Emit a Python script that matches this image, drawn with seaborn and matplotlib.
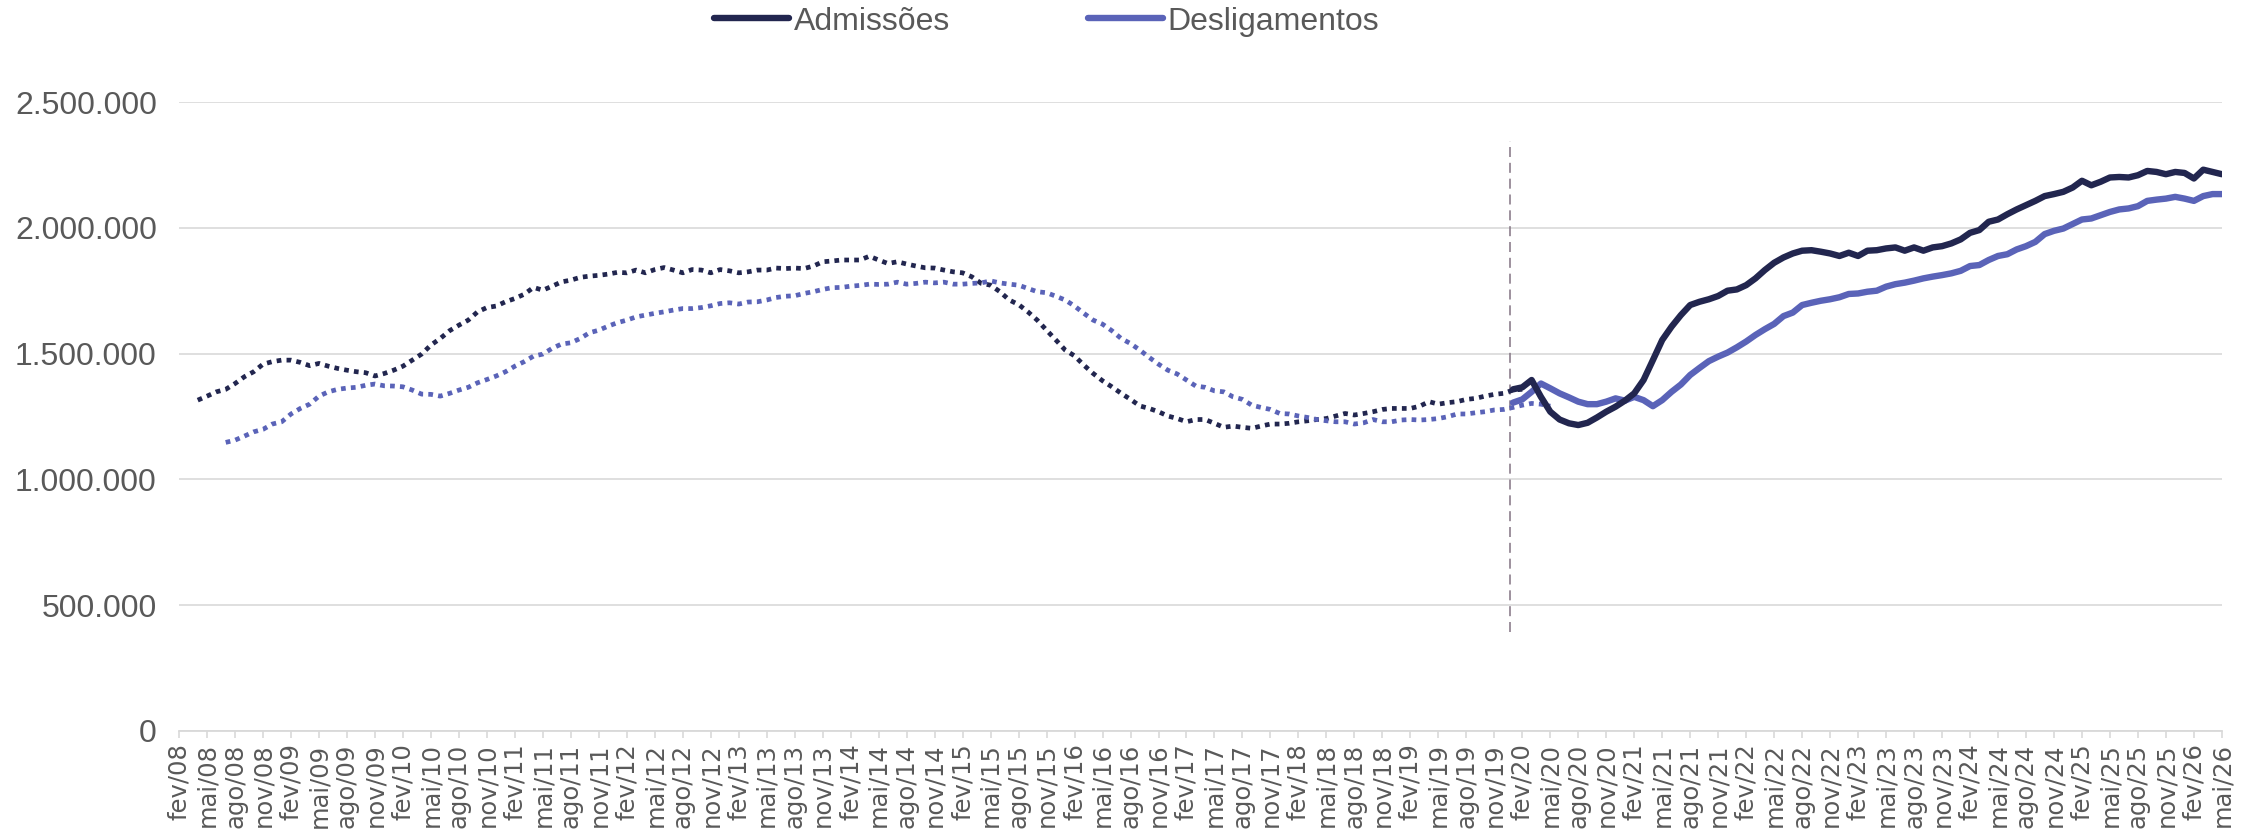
import numpy as np
import pandas as pd
import matplotlib
matplotlib.use("Agg")
import matplotlib.pyplot as plt
from matplotlib import font_manager
from matplotlib.lines import Line2D
from matplotlib.ticker import FuncFormatter, MultipleLocator
import seaborn as sns

# ---------------------------------------------------------------- data
# Monthly axis: fev/08 ... mai/26 (index 0 = fev/08)
MESES = ["jan", "fev", "mar", "abr", "mai", "jun",
         "jul", "ago", "set", "out", "nov", "dez"]
N_MESES = 220

# Old series (dotted), values in thousands
adm_antigo_inicio = 2     # abr/08
adm_antigo = [
    1315, 1331, 1348, 1358, 1381, 1408, 1428, 1458, 1468, 1474, 1474, 1465,
    1452, 1461, 1450, 1441, 1434, 1428, 1424, 1411, 1421, 1434, 1450, 1474,
    1498, 1534, 1560, 1591, 1613, 1633, 1666, 1683, 1689, 1706, 1719, 1736,
    1763, 1752, 1768, 1785, 1792, 1803, 1808, 1811, 1816, 1823, 1821, 1832,
    1821, 1834, 1842, 1832, 1821, 1834, 1832, 1821, 1834, 1829, 1821, 1825,
    1832, 1832, 1840, 1838, 1840, 1838, 1848, 1865, 1868, 1872, 1872, 1872,
    1887, 1872, 1858, 1865, 1856, 1848, 1841, 1840, 1832, 1825, 1821, 1805,
    1779, 1772, 1746, 1713, 1695, 1666, 1633, 1593, 1554, 1514, 1491, 1454,
    1421, 1392, 1368, 1342, 1318, 1292, 1282, 1269, 1252, 1242, 1229, 1238,
    1238, 1223, 1207, 1212, 1207, 1203, 1212, 1220, 1220, 1223, 1229, 1233,
    1238, 1242, 1252, 1262, 1256, 1262, 1269, 1278, 1282, 1282, 1282, 1291,
    1309, 1299, 1305, 1309, 1318, 1322, 1331, 1338, 1342, 1355, 1358,
]

desl_antigo_inicio = 5    # jul/08
desl_antigo = [
    1147, 1156, 1172, 1189, 1199, 1220, 1229, 1260, 1282, 1299, 1331, 1348,
    1358, 1363, 1366, 1374, 1379, 1372, 1371, 1368, 1355, 1339, 1338, 1331,
    1342, 1355, 1366, 1384, 1397, 1411, 1428, 1450, 1468, 1490, 1498, 1521,
    1538, 1543, 1560, 1583, 1593, 1609, 1623, 1633, 1646, 1653, 1660, 1666,
    1673, 1679, 1679, 1683, 1690, 1699, 1702, 1697, 1705, 1706, 1713, 1723,
    1728, 1730, 1739, 1746, 1755, 1762, 1763, 1768, 1771, 1776, 1775, 1776,
    1784, 1776, 1779, 1784, 1781, 1784, 1776, 1776, 1779, 1781, 1789, 1781,
    1776, 1772, 1759, 1746, 1742, 1728, 1713, 1689, 1660, 1633, 1617, 1591,
    1560, 1540, 1514, 1485, 1458, 1434, 1419, 1395, 1371, 1366, 1352, 1348,
    1328, 1318, 1295, 1286, 1278, 1262, 1260, 1252, 1246, 1238, 1233, 1229,
    1229, 1220, 1225, 1238, 1229, 1229, 1236, 1238, 1236, 1238, 1242, 1249,
    1260, 1260, 1265, 1269, 1276, 1278, 1286, 1295, 1302, 1299, 1291,
]

# New series (solid), values in thousands
novo_inicio = 143         # jan/20
adm_novo = [
    1358, 1366, 1395, 1328, 1269, 1238, 1223, 1216, 1225, 1246, 1269, 1289,
    1313, 1342, 1395, 1474, 1554, 1607, 1653, 1693, 1706, 1716, 1729, 1750,
    1755, 1772, 1799, 1832, 1861, 1882, 1898, 1909, 1911, 1905, 1898, 1888,
    1901, 1888, 1909, 1911, 1918, 1922, 1909, 1922, 1909, 1922, 1927, 1938,
    1954, 1980, 1991, 2024, 2033, 2054, 2073, 2090, 2107, 2126, 2134, 2143,
    2160, 2187, 2169, 2183, 2200, 2202, 2200, 2209, 2226, 2222, 2213, 2222,
    2218, 2196, 2231, 2222, 2213,
]
desl_novo = [
    1305, 1318, 1348, 1381, 1362, 1342, 1326, 1309, 1299, 1299, 1309, 1322,
    1313, 1328, 1315, 1291, 1315, 1348, 1377, 1415, 1443, 1470, 1488, 1504,
    1525, 1548, 1574, 1597, 1618, 1649, 1663, 1693, 1702, 1710, 1716, 1724,
    1737, 1739, 1746, 1750, 1766, 1776, 1782, 1790, 1799, 1806, 1812, 1819,
    1829, 1848, 1852, 1872, 1888, 1895, 1914, 1927, 1944, 1975, 1988, 1997,
    2015, 2033, 2037, 2050, 2063, 2073, 2077, 2086, 2107, 2112, 2116, 2123,
    2116, 2107, 2126, 2134, 2134,
]

# break between methodologies (month index) and its vertical extent
quebra_mes = 142.7
quebra_faixa = (393_000, 2_345_000)

series_nomes = ["Admissões", "Desligamentos"]

# ---------------------------------------------------------------- style
sns.set_theme(style="white")
nomes = {f.name for f in font_manager.fontManager.ttflist}
fonte_estreita = "Liberation Sans Narrow" if "Liberation Sans Narrow" in nomes else "Liberation Sans"
plt.rcParams["font.family"] = ["DejaVu Sans"]

COR_ADM = "#22264F"
COR_DESL = "#5A63B8"
COR_GRADE = "#D9D9D9"
COR_TEXTO = "#595959"

rotulos = [f"{MESES[(1 + i) % 12]}/{(8 + (1 + i) // 12):02d}" for i in range(N_MESES)]


def serie(inicio, valores):
    idx = np.arange(inicio, inicio + len(valores))
    return pd.DataFrame({"mes": idx, "valor": np.array(valores) * 1000})


fig = plt.figure(figsize=(22.61, 8.32), dpi=100)
ax = fig.add_axes([0.0792, 0.1214, 0.9035, 0.756])

dotted = (0, (1.0, 1.1))
sns.lineplot(data=serie(adm_antigo_inicio, adm_antigo), x="mes", y="valor", ax=ax,
             color=COR_ADM, linewidth=3.4, linestyle=dotted, errorbar=None)
sns.lineplot(data=serie(desl_antigo_inicio, desl_antigo), x="mes", y="valor", ax=ax,
             color=COR_DESL, linewidth=3.4, linestyle=dotted, errorbar=None)
sns.lineplot(data=serie(novo_inicio, desl_novo), x="mes", y="valor", ax=ax,
             color=COR_DESL, linewidth=4.6, errorbar=None)
sns.lineplot(data=serie(novo_inicio, adm_novo), x="mes", y="valor", ax=ax,
             color=COR_ADM, linewidth=4.6, errorbar=None)

ax.plot([quebra_mes, quebra_mes], quebra_faixa, color="#8C7E8C",
        linewidth=1.2, linestyle=(0, (6, 3.5)), zorder=1)

# axes
ax.set_xlim(0, N_MESES - 1)
ax.set_ylim(0, 2_500_000)
ax.yaxis.set_major_locator(MultipleLocator(500_000))
ax.yaxis.set_major_formatter(FuncFormatter(lambda v, p: f"{int(v):,}".replace(",", ".")))
ax.set_xticks(range(0, N_MESES, 3))
ax.set_xticklabels(rotulos[::3], rotation=90, fontsize=17.5, color=COR_TEXTO,
                   family=["DejaVu Sans"])
for t in ax.get_yticklabels():
    t.set_family(fonte_estreita)
    t.set_fontsize(23)
    t.set_color(COR_TEXTO)
ax.set_xlabel("")
ax.set_ylabel("")

ax.yaxis.grid(True, color=COR_GRADE, linewidth=1.2)
ax.xaxis.grid(False)
ax.set_axisbelow(True)
for s in ["left", "right", "top"]:
    ax.spines[s].set_visible(False)
ax.spines["bottom"].set_color(COR_GRADE)
ax.spines["bottom"].set_linewidth(1.3)
ax.tick_params(axis="x", which="major", direction="out", length=5, width=1.2,
               color=COR_GRADE, pad=4, bottom=True)
ax.tick_params(axis="y", length=0, pad=16)

# legend
handles = [Line2D([], [], color=COR_ADM, linewidth=4.6),
           Line2D([], [], color=COR_DESL, linewidth=4.6)]
fig.legend(handles, series_nomes, loc="center", bbox_to_anchor=(0.463, 0.974),
           ncol=2, frameon=False, handlelength=2.35, handletextpad=0.15,
           columnspacing=4.3, prop={"family": fonte_estreita, "size": 23},
           labelcolor=COR_TEXTO)

fig.savefig("out.png", dpi=100, facecolor="white")
